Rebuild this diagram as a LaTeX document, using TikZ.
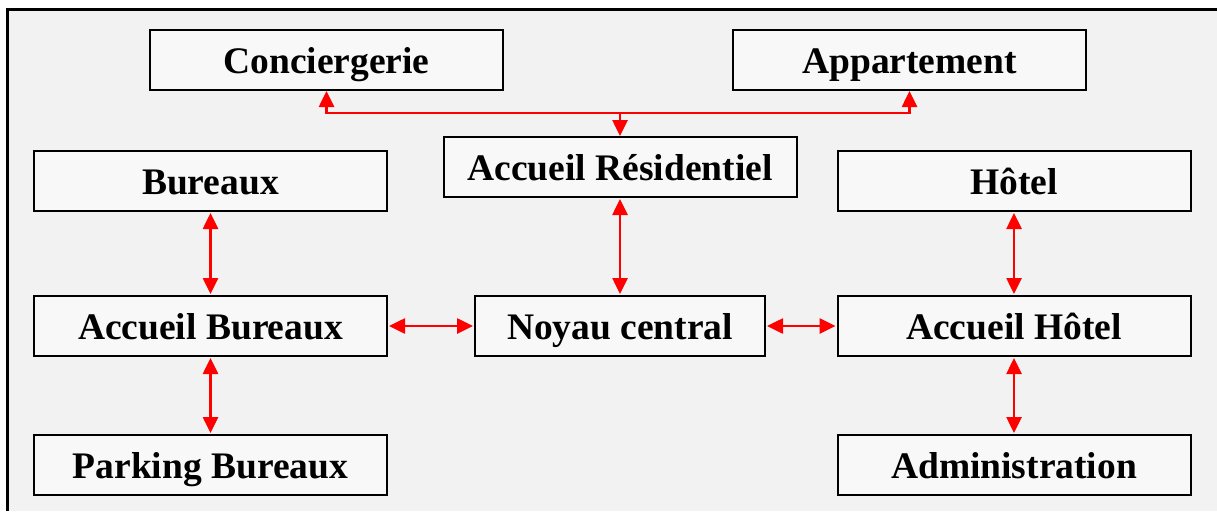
\documentclass[tikz,border=0pt]{standalone}
\usepackage{fontspec}
\setmainfont{Liberation Serif}
\usetikzlibrary{arrows.meta}
\definecolor{bggray}{HTML}{F2F2F2}
\definecolor{boxfill}{HTML}{F8F8F8}
\definecolor{linkred}{HTML}{FF0000}
\begin{document}
\begin{tikzpicture}[x=1pt,y=-1pt,
  box/.style={draw=black, line width=2pt, fill=boxfill, minimum width=353pt, minimum height=60pt, inner sep=0pt, text height=27pt, text depth=0pt, font=\fontsize{37.5}{40}\selectfont\bfseries},
  tip/.tip={Triangle[length=16pt,width=15pt]},
  link/.style={draw=linkred, line width=2.6pt, tip-tip, shorten >=1pt, shorten <=1pt},
  onelink/.style={draw=linkred, line width=2.6pt, -tip}]
  \useasboundingbox (0,0) rectangle (1217,511);
  \fill[bggray] (7,10) rectangle (1217,511);
  \draw[line width=3pt] (7,511) -- (7,10) -- (1217,10);

  \node[box] (conc) at (326.5,60) {Conciergerie};
  \node[box] (app)  at (909.5,60) {Appartement};
  \node[box] (res)  at (620,167) {Accueil Résidentiel};
  \node[box] (bur)  at (210.5,181) {Bureaux};
  \node[box] (hot)  at (1014,181) {Hôtel};
  \node[box] (ab)   at (210.5,326) {Accueil Bureaux};
  \node[box, minimum width=290pt] (noy) at (620,326) {Noyau central};
  \node[box] (ah)   at (1014,326) {Accueil Hôtel};
  \node[box] (park) at (210.5,465) {Parking Bureaux};
  \node[box] (adm)  at (1014,465) {Administration};

  \coordinate (j) at (620,113);
  \draw[onelink] (j) -| (conc.south);
  \draw[onelink] (j) -| (app.south);
  \draw[onelink] (j) -- (res.north);

  \draw[link] (bur.south) -- (ab.north);
  \draw[link] (ab.south) -- (park.north);
  \draw[link] (res.south) -- (noy.north);
  \draw[link] (ab.east) -- (noy.west);
  \draw[link] (noy.east) -- (ah.west);
  \draw[link] (hot.south) -- (ah.north);
  \draw[link] (ah.south) -- (adm.north);
\end{tikzpicture}
\end{document}
